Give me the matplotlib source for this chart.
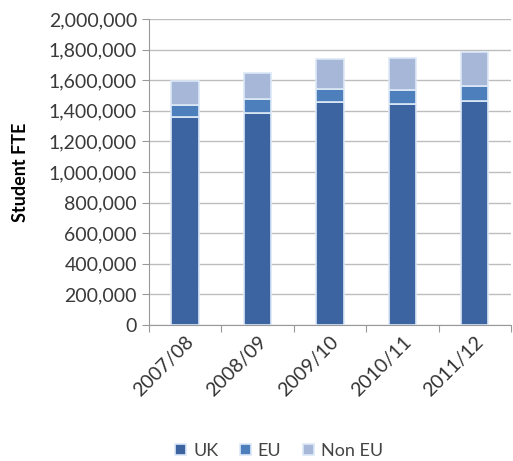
import matplotlib
matplotlib.use("Agg")
import matplotlib.pyplot as plt
from matplotlib.ticker import FuncFormatter

years = ["2007/08", "2008/09", "2009/10", "2010/11", "2011/12"]
uk = [1360000, 1385000, 1455000, 1445000, 1466000]
eu = [78000, 90000, 89000, 92000, 96000]
non_eu = [157000, 170000, 195000, 206000, 220000]

colors = {"UK": "#3b64a0", "EU": "#4e7fbd", "Non EU": "#a7b7d8"}

plt.rcParams["font.family"] = ["Lato", "DejaVu Sans"]

fig = plt.figure(figsize=(5.13, 4.61), dpi=100)
ax = fig.add_axes([0.29, 0.295, 0.706, 0.664])

x = range(len(years))
w = 0.38
edge = "#dce9f7"
ax.bar(x, uk, w, color=colors["UK"], edgecolor=edge, linewidth=1.2, label="UK", zorder=3)
ax.bar(x, eu, w, bottom=uk, color=colors["EU"], edgecolor=edge, linewidth=1.2, label="EU", zorder=3)
bottom2 = [a + b for a, b in zip(uk, eu)]
ax.bar(x, non_eu, w, bottom=bottom2, color=colors["Non EU"], edgecolor=edge, linewidth=1.2,
       label="Non EU", zorder=3)

ax.set_ylim(0, 2000000)
ax.set_yticks(range(0, 2000001, 200000))
ax.yaxis.set_major_formatter(FuncFormatter(lambda v, p: f"{int(v):,}"))
ax.set_xlim(-0.5, len(years) - 0.5)
ax.set_xticks([i - 0.5 for i in range(len(years) + 1)], minor=False)
ax.set_xticklabels([])
ax.set_xticks(list(x), minor=True)
ax.set_xticklabels(years, minor=True, rotation=45, ha="right", rotation_mode="anchor")
ax.tick_params(axis="x", which="minor", length=0, labelsize=14, colors="#333333", pad=6)
ax.tick_params(axis="x", which="major", length=5, color="#999999", direction="out")
ax.tick_params(axis="y", labelsize=14, colors="#3a3a3a", length=5, color="#999999")

ax.grid(axis="y", color="#bdbdbd", linewidth=1, zorder=0)
for s in ["top", "right"]:
    ax.spines[s].set_visible(False)
for s in ["left", "bottom"]:
    ax.spines[s].set_color("#999999")

ax.set_ylabel("Student FTE", fontsize=13, fontweight="bold", labelpad=14)

ax.legend(loc="lower center", bbox_to_anchor=(0.36, -0.49), ncol=3, frameon=False,
          fontsize=13, handlelength=0.6, handleheight=0.6, handletextpad=0.4,
          columnspacing=1.2, labelcolor="#444444")

fig.savefig("out.png", dpi=100)
